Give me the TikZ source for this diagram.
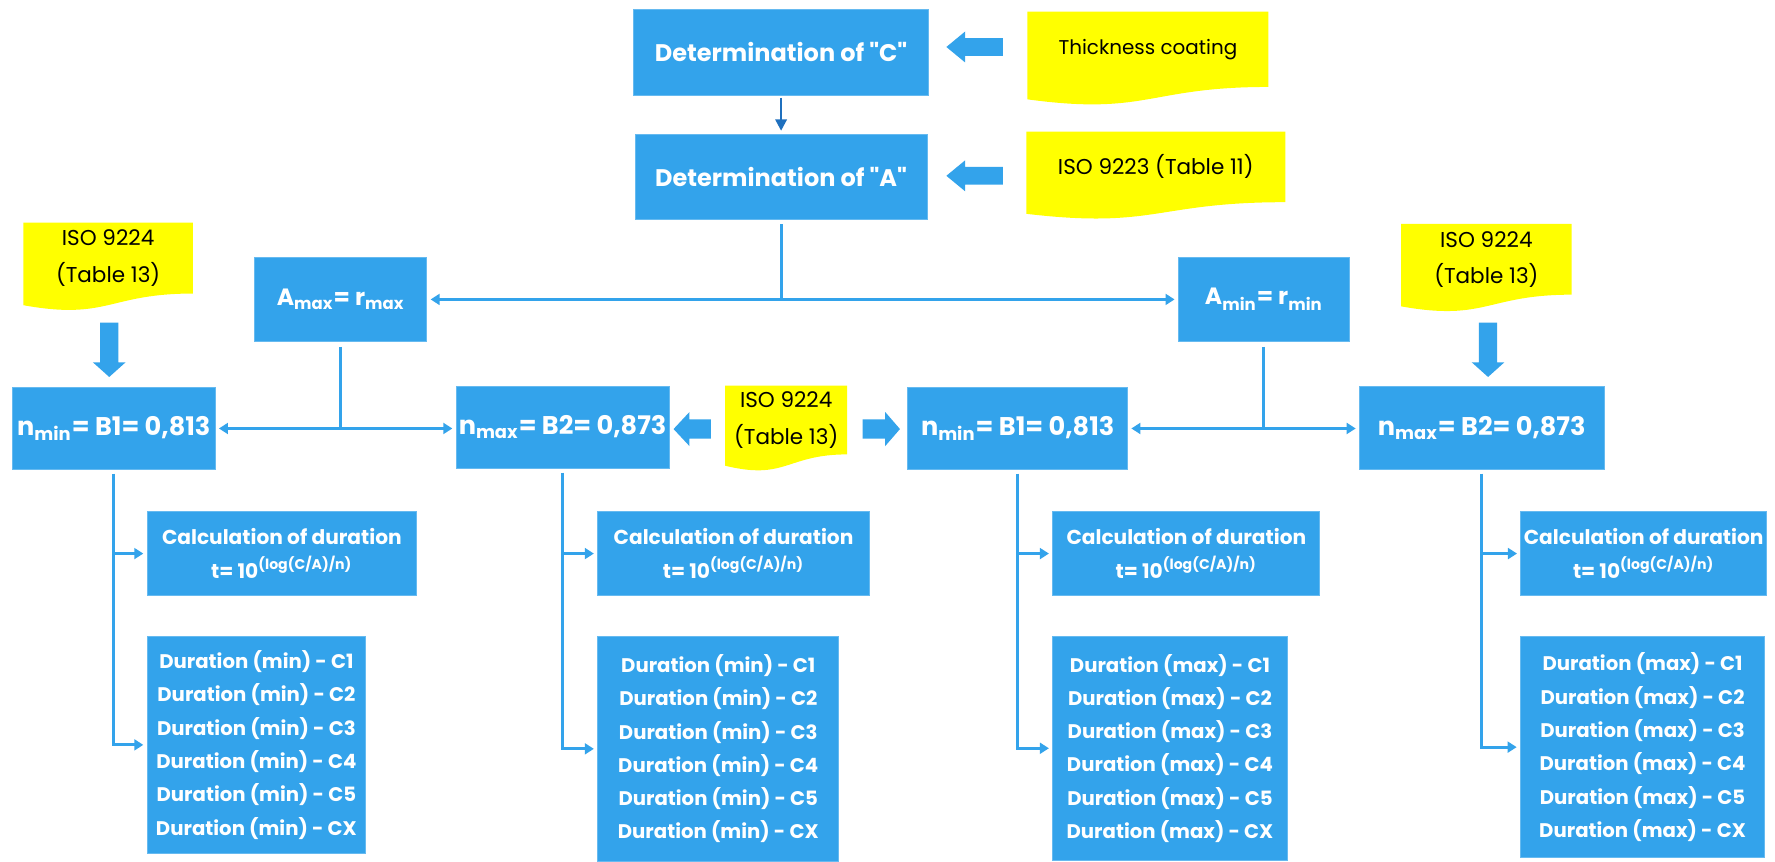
\documentclass[tikz,border=0pt]{standalone}
\usepackage{fontspec}
\setmainfont{Poppins}[Ligatures=TeXOff]
\usetikzlibrary{arrows.meta,calc,backgrounds}
\definecolor{boxblue}{RGB}{51,163,235}
\definecolor{darkblue}{RGB}{31,112,190}
\definecolor{noteyellow}{RGB}{255,255,0}
\newcommand\mynotefill[1]{%
  \fill[noteyellow] (#1.north west) -- (#1.north east) -- (#1.south east)
    .. controls (#1.south) and ($(#1.north)!1.381!(#1.south)$) ..
    ($(#1.north west)!1.1646!(#1.south west)$) -- cycle;}
\begin{document}
\begin{tikzpicture}[x=0.5pt,y=-0.5pt,
  bluebox/.style={fill=boxblue, draw=boxblue!75!white, line width=0.4pt,
    text=white, align=center, inner sep=0pt},
  notebox/.style={inner sep=0pt, align=center, text=black,
    font=\fontsize{9.5}{16}\selectfont},
  headfont/.style={font=\fontsize{10.6}{13}\selectfont\bfseries},
  afont/.style={font=\fontsize{10.4}{13}\selectfont\bfseries},
  nfont/.style={font=\fontsize{11.3}{13}\selectfont\bfseries},
  calcfont/.style={font=\fontsize{8.9}{15}\selectfont\bfseries},
  durfont/.style={font=\fontsize{8.7}{14.7}\selectfont\bfseries},
  conn/.style={draw=boxblue, line width=1.3pt},
  tipend/.style={-{Triangle[length=4pt,width=4.8pt]}, shorten >=1.5pt},
  tipboth/.style={{Triangle[length=4pt,width=4.8pt]}-{Triangle[length=4pt,width=4.8pt]}, shorten >=1.5pt, shorten <=1.5pt},
  blockarrow/.style={fill=boxblue},
]
\useasboundingbox (0,0) rectangle (1568,761);

% top boxes
\node[bluebox, headfont, minimum width=130pt, minimum height=38pt] (detC) at (690,46) {Determination of "C"};
\node[bluebox, headfont, minimum width=129pt, minimum height=37.5pt] (detA) at (690,156) {Determination of "A"};

% notes
\node[notebox, font=\fontsize{8.8}{16}\selectfont, minimum width=106pt, minimum height=32.9pt] (noteT) at (1014,43.5) {Thickness coating};
\node[notebox, minimum width=114pt, minimum height=30.8pt] (noteI) at (1021,147.4) {ISO 9223 (Table 11)};
\node[notebox, minimum width=74.5pt, minimum height=30.9pt] (noteL) at (95.5,228) {ISO 9224\\(Table 13)};
\node[notebox, minimum width=75pt, minimum height=30.9pt] (noteR) at (1313,229) {ISO 9224\\(Table 13)};
\node[notebox, minimum width=53.5pt, minimum height=30pt] (noteM) at (694.5,371) {ISO 9224\\(Table 13)};

% A boxes
\node[bluebox, afont, minimum width=76pt, minimum height=37.5pt] (amax) at (301,264.5) {A\textsubscript{max}= r\textsubscript{max}};
\node[bluebox, afont, minimum width=75.5pt, minimum height=37.5pt] (amin) at (1116.5,264.5) {A\textsubscript{min}= r\textsubscript{min}};

% n boxes
\node[bluebox, nfont, minimum width=89.5pt, minimum height=36.5pt] (nmin1) at (100.5,378.5) {n\textsubscript{min}= B1= 0,813};
\node[bluebox, nfont, minimum width=94pt, minimum height=36.5pt] (nmax1) at (497,377.5) {n\textsubscript{max}= B2= 0,873};
\node[bluebox, nfont, minimum width=97pt, minimum height=36.5pt] (nmin2) at (899,378.5) {n\textsubscript{min}= B1= 0,813};
\node[bluebox, nfont, minimum width=108pt, minimum height=37pt] (nmax2) at (1309,378) {n\textsubscript{max}= B2= 0,873};

% calc boxes
\node[bluebox, calcfont, minimum width=119pt, minimum height=37pt] (calc1) at (249,489) {Calculation of duration\\t= 10\textsuperscript{(log(C/A)/n)}};
\node[bluebox, calcfont, minimum width=120pt, minimum height=37pt] (calc2) at (648,489) {Calculation of duration\\t= 10\textsuperscript{(log(C/A)/n)}};
\node[bluebox, calcfont, minimum width=118pt, minimum height=37pt] (calc3) at (1048,489) {Calculation of duration\\t= 10\textsuperscript{(log(C/A)/n)}};
\node[bluebox, calcfont, minimum width=108.5pt, minimum height=37pt] (calc4) at (1452,489) {Calculation of duration\\t= 10\textsuperscript{(log(C/A)/n)}};

% duration boxes
\node[bluebox, durfont, minimum width=96.5pt, minimum height=95.75pt] (dur1) at (226.5,658) {Duration (min) - C1\\Duration (min) - C2\\Duration (min) - C3\\Duration (min) - C4\\Duration (min) - C5\\Duration (min) - CX};
\node[bluebox, durfont, minimum width=106.5pt, minimum height=99.5pt] (dur2) at (634.5,661.5) {Duration (min) - C1\\Duration (min) - C2\\Duration (min) - C3\\Duration (min) - C4\\Duration (min) - C5\\Duration (min) - CX};
\node[bluebox, durfont, minimum width=103.5pt, minimum height=99pt] (dur3) at (1033.5,661) {Duration (max) - C1\\Duration (max) - C2\\Duration (max) - C3\\Duration (max) - C4\\Duration (max) - C5\\Duration (max) - CX};
\node[bluebox, durfont, minimum width=107.8pt, minimum height=97.75pt] (dur4) at (1451,660) {Duration (max) - C1\\Duration (max) - C2\\Duration (max) - C3\\Duration (max) - C4\\Duration (max) - C5\\Duration (max) - CX};

\begin{scope}[on background layer]
  \fill[white] (0,0) rectangle (1568,761);
  \mynotefill{noteT}
  \mynotefill{noteI}
  \mynotefill{noteL}
  \mynotefill{noteR}
  \mynotefill{noteM}
\end{scope}

% block arrows
\fill[blockarrow] (886,33.7) -- (852.6,33.7) -- (852.6,27.8) -- (836,41.5) -- (852.6,55.2) -- (852.6,49.3) -- (886,49.3) -- cycle;
\fill[blockarrow] (886,147.5) -- (852.6,147.5) -- (852.6,141.6) -- (836,155.3) -- (852.6,169) -- (852.6,163.1) -- (886,163.1) -- cycle;
\fill[blockarrow] (88.5,285) -- (104.5,285) -- (104.5,320) -- (111,320) -- (96.5,333) -- (82,320) -- (88.5,320) -- cycle;
\fill[blockarrow] (1306.5,285) -- (1322.5,285) -- (1322.5,320) -- (1329,320) -- (1314.5,333) -- (1300,320) -- (1306.5,320) -- cycle;
\fill[blockarrow] (628,370.5) -- (609,370.5) -- (609,364) -- (595,379) -- (609,394) -- (609,387.5) -- (628,387.5) -- cycle;
\fill[blockarrow] (762,370.5) -- (782,370.5) -- (782,364) -- (795,379) -- (782,394) -- (782,387.5) -- (762,387.5) -- cycle;

% connectors
\draw[draw=darkblue, line width=1pt, -{Triangle[length=5pt,width=5pt]}, shorten >=1.3pt] ([yshift=-1pt]detC.south) -- (detA.north);
\draw[conn] ([yshift=-2pt]detA.south) -- (detA.south |- amax.east);
\draw[conn, tipboth] (amax.east) -- (amin.west);
\draw[conn] ([yshift=-2pt]amax.south) -- (amax.south |- nmin1.east);
\draw[conn, tipboth] (nmin1.east) -- (nmax1.west |- nmin1.east);
\draw[conn] ([yshift=-2pt]amin.south) -- (amin.south |- nmin2.east);
\draw[conn, tipboth] (nmin2.east) -- (nmax2.west |- nmin2.east);

\draw[conn, tipend] ([yshift=-1.5pt]nmin1.south) |- (dur1.west);
\draw[conn, tipend] (nmin1.south |- calc1.west) -- (calc1.west);
\draw[conn, tipend] ([yshift=-1.5pt]nmax1.south) |- (dur2.west);
\draw[conn, tipend] (nmax1.south |- calc2.west) -- (calc2.west);
\draw[conn, tipend] ([yshift=-1.5pt]nmin2.south) |- (dur3.west);
\draw[conn, tipend] (nmin2.south |- calc3.west) -- (calc3.west);
\draw[conn, tipend] ([yshift=-1.5pt]nmax2.south) |- (dur4.west);
\draw[conn, tipend] (nmax2.south |- calc4.west) -- (calc4.west);
\end{tikzpicture}
\end{document}
